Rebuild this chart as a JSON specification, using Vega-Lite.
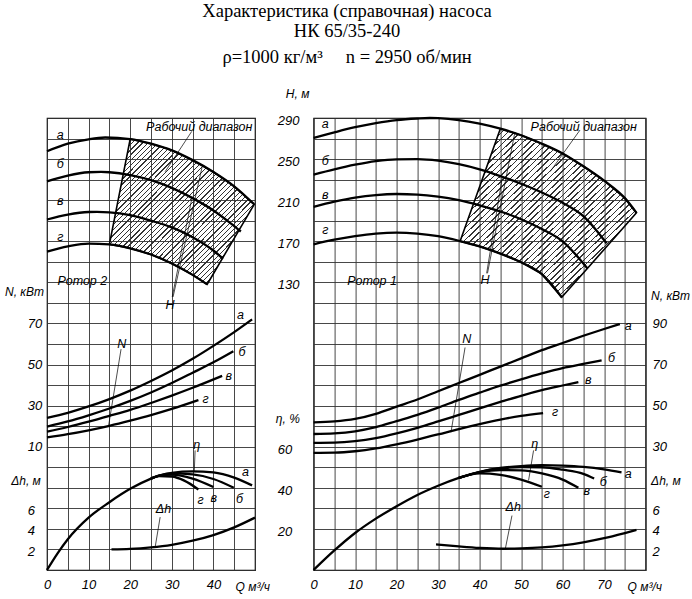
{
  "$schema": "https://vega.github.io/schema/vega-lite/v6.json",
  "description": "Характеристика насоса НК 65/35-240: H, N, η и Δh от подачи Q для роторов 2 и 1.",
  "background": "white",
  "padding": {"left": 3, "top": 2, "right": 2, "bottom": 2},
  "title": {
    "text": ["Характеристика (справочная) насоса", "НК 65/35-240"],
    "subtitle": "ρ=1000 кг/м³\u00a0\u00a0\u00a0\u00a0\u00a0n = 2950 об/мин",
    "font": "Liberation Serif",
    "fontSize": 18.5,
    "fontWeight": "normal",
    "color": "#000",
    "lineHeight": 20,
    "subtitleFont": "Liberation Serif",
    "subtitleFontSize": 18.5,
    "subtitleColor": "#000",
    "subtitlePadding": 7,
    "anchor": "middle",
    "offset": 21
  },
  "spacing": 58.6,
  "bounds": "flush",
  "config": {
    "view": {"stroke": "#000", "strokeWidth": 1.2},
    "axis": {
      "grid": false,
      "ticks": false,
      "tickSize": 0,
      "domain": false,
      "labelFont": "Liberation Sans",
      "labelFontStyle": "italic",
      "labelFontSize": 13,
      "labelColor": "#000",
      "labelOverlap": false,
      "labelFlush": false,
      "titleFont": "Liberation Sans",
      "titleFontStyle": "italic",
      "titleFontWeight": "normal",
      "titleFontSize": 12,
      "titleColor": "#000",
      "gridColor": "#333",
      "gridWidth": 0.9,
      "gridOpacity": 1
    },
    "axisX": {"labelBaseline": "top", "labelPadding": 8, "labelAlign": "center"},
    "axisY": {"labelBaseline": "middle", "titleAngle": 0, "titleBaseline": "middle"},
    "line": {"color": "#000", "strokeWidth": 2.3, "interpolate": "monotone"},
    "rule": {"color": "#000", "strokeWidth": 0.7},
    "text": {"font": "Liberation Sans", "fontStyle": "italic", "fontSize": 12.5, "color": "#000"},
    "area": {
      "fill": {
        "gradient": "linear",
        "x1": 0, "y1": 0, "x2": 0.9, "y2": 0.9,
        "stops": [
          {"offset": 0, "color": "#333"}, {"offset": 0.005, "color": "#333"}, {"offset": 0.005, "color": "rgba(0,0,0,0)"}, {"offset": 0.02, "color": "rgba(0,0,0,0)"},
          {"offset": 0.02, "color": "#333"}, {"offset": 0.025, "color": "#333"}, {"offset": 0.025, "color": "rgba(0,0,0,0)"}, {"offset": 0.04, "color": "rgba(0,0,0,0)"},
          {"offset": 0.04, "color": "#333"}, {"offset": 0.045, "color": "#333"}, {"offset": 0.045, "color": "rgba(0,0,0,0)"}, {"offset": 0.06, "color": "rgba(0,0,0,0)"},
          {"offset": 0.06, "color": "#333"}, {"offset": 0.065, "color": "#333"}, {"offset": 0.065, "color": "rgba(0,0,0,0)"}, {"offset": 0.08, "color": "rgba(0,0,0,0)"},
          {"offset": 0.08, "color": "#333"}, {"offset": 0.085, "color": "#333"}, {"offset": 0.085, "color": "rgba(0,0,0,0)"}, {"offset": 0.1, "color": "rgba(0,0,0,0)"},
          {"offset": 0.1, "color": "#333"}, {"offset": 0.105, "color": "#333"}, {"offset": 0.105, "color": "rgba(0,0,0,0)"}, {"offset": 0.12, "color": "rgba(0,0,0,0)"},
          {"offset": 0.12, "color": "#333"}, {"offset": 0.125, "color": "#333"}, {"offset": 0.125, "color": "rgba(0,0,0,0)"}, {"offset": 0.14, "color": "rgba(0,0,0,0)"},
          {"offset": 0.14, "color": "#333"}, {"offset": 0.145, "color": "#333"}, {"offset": 0.145, "color": "rgba(0,0,0,0)"}, {"offset": 0.16, "color": "rgba(0,0,0,0)"},
          {"offset": 0.16, "color": "#333"}, {"offset": 0.165, "color": "#333"}, {"offset": 0.165, "color": "rgba(0,0,0,0)"}, {"offset": 0.18, "color": "rgba(0,0,0,0)"},
          {"offset": 0.18, "color": "#333"}, {"offset": 0.185, "color": "#333"}, {"offset": 0.185, "color": "rgba(0,0,0,0)"}, {"offset": 0.2, "color": "rgba(0,0,0,0)"},
          {"offset": 0.2, "color": "#333"}, {"offset": 0.205, "color": "#333"}, {"offset": 0.205, "color": "rgba(0,0,0,0)"}, {"offset": 0.22, "color": "rgba(0,0,0,0)"},
          {"offset": 0.22, "color": "#333"}, {"offset": 0.225, "color": "#333"}, {"offset": 0.225, "color": "rgba(0,0,0,0)"}, {"offset": 0.24, "color": "rgba(0,0,0,0)"},
          {"offset": 0.24, "color": "#333"}, {"offset": 0.245, "color": "#333"}, {"offset": 0.245, "color": "rgba(0,0,0,0)"}, {"offset": 0.26, "color": "rgba(0,0,0,0)"},
          {"offset": 0.26, "color": "#333"}, {"offset": 0.265, "color": "#333"}, {"offset": 0.265, "color": "rgba(0,0,0,0)"}, {"offset": 0.28, "color": "rgba(0,0,0,0)"},
          {"offset": 0.28, "color": "#333"}, {"offset": 0.285, "color": "#333"}, {"offset": 0.285, "color": "rgba(0,0,0,0)"}, {"offset": 0.3, "color": "rgba(0,0,0,0)"},
          {"offset": 0.3, "color": "#333"}, {"offset": 0.305, "color": "#333"}, {"offset": 0.305, "color": "rgba(0,0,0,0)"}, {"offset": 0.32, "color": "rgba(0,0,0,0)"},
          {"offset": 0.32, "color": "#333"}, {"offset": 0.325, "color": "#333"}, {"offset": 0.325, "color": "rgba(0,0,0,0)"}, {"offset": 0.34, "color": "rgba(0,0,0,0)"},
          {"offset": 0.34, "color": "#333"}, {"offset": 0.345, "color": "#333"}, {"offset": 0.345, "color": "rgba(0,0,0,0)"}, {"offset": 0.36, "color": "rgba(0,0,0,0)"},
          {"offset": 0.36, "color": "#333"}, {"offset": 0.365, "color": "#333"}, {"offset": 0.365, "color": "rgba(0,0,0,0)"}, {"offset": 0.38, "color": "rgba(0,0,0,0)"},
          {"offset": 0.38, "color": "#333"}, {"offset": 0.385, "color": "#333"}, {"offset": 0.385, "color": "rgba(0,0,0,0)"}, {"offset": 0.4, "color": "rgba(0,0,0,0)"},
          {"offset": 0.4, "color": "#333"}, {"offset": 0.405, "color": "#333"}, {"offset": 0.405, "color": "rgba(0,0,0,0)"}, {"offset": 0.42, "color": "rgba(0,0,0,0)"},
          {"offset": 0.42, "color": "#333"}, {"offset": 0.425, "color": "#333"}, {"offset": 0.425, "color": "rgba(0,0,0,0)"}, {"offset": 0.44, "color": "rgba(0,0,0,0)"},
          {"offset": 0.44, "color": "#333"}, {"offset": 0.445, "color": "#333"}, {"offset": 0.445, "color": "rgba(0,0,0,0)"}, {"offset": 0.46, "color": "rgba(0,0,0,0)"},
          {"offset": 0.46, "color": "#333"}, {"offset": 0.465, "color": "#333"}, {"offset": 0.465, "color": "rgba(0,0,0,0)"}, {"offset": 0.48, "color": "rgba(0,0,0,0)"},
          {"offset": 0.48, "color": "#333"}, {"offset": 0.485, "color": "#333"}, {"offset": 0.485, "color": "rgba(0,0,0,0)"}, {"offset": 0.5, "color": "rgba(0,0,0,0)"},
          {"offset": 0.5, "color": "#333"}, {"offset": 0.505, "color": "#333"}, {"offset": 0.505, "color": "rgba(0,0,0,0)"}, {"offset": 0.52, "color": "rgba(0,0,0,0)"},
          {"offset": 0.52, "color": "#333"}, {"offset": 0.525, "color": "#333"}, {"offset": 0.525, "color": "rgba(0,0,0,0)"}, {"offset": 0.54, "color": "rgba(0,0,0,0)"},
          {"offset": 0.54, "color": "#333"}, {"offset": 0.545, "color": "#333"}, {"offset": 0.545, "color": "rgba(0,0,0,0)"}, {"offset": 0.56, "color": "rgba(0,0,0,0)"},
          {"offset": 0.56, "color": "#333"}, {"offset": 0.565, "color": "#333"}, {"offset": 0.565, "color": "rgba(0,0,0,0)"}, {"offset": 0.58, "color": "rgba(0,0,0,0)"},
          {"offset": 0.58, "color": "#333"}, {"offset": 0.585, "color": "#333"}, {"offset": 0.585, "color": "rgba(0,0,0,0)"}, {"offset": 0.6, "color": "rgba(0,0,0,0)"},
          {"offset": 0.6, "color": "#333"}, {"offset": 0.605, "color": "#333"}, {"offset": 0.605, "color": "rgba(0,0,0,0)"}, {"offset": 0.62, "color": "rgba(0,0,0,0)"},
          {"offset": 0.62, "color": "#333"}, {"offset": 0.625, "color": "#333"}, {"offset": 0.625, "color": "rgba(0,0,0,0)"}, {"offset": 0.64, "color": "rgba(0,0,0,0)"},
          {"offset": 0.64, "color": "#333"}, {"offset": 0.645, "color": "#333"}, {"offset": 0.645, "color": "rgba(0,0,0,0)"}, {"offset": 0.66, "color": "rgba(0,0,0,0)"},
          {"offset": 0.66, "color": "#333"}, {"offset": 0.665, "color": "#333"}, {"offset": 0.665, "color": "rgba(0,0,0,0)"}, {"offset": 0.68, "color": "rgba(0,0,0,0)"},
          {"offset": 0.68, "color": "#333"}, {"offset": 0.685, "color": "#333"}, {"offset": 0.685, "color": "rgba(0,0,0,0)"}, {"offset": 0.7, "color": "rgba(0,0,0,0)"},
          {"offset": 0.7, "color": "#333"}, {"offset": 0.705, "color": "#333"}, {"offset": 0.705, "color": "rgba(0,0,0,0)"}, {"offset": 0.72, "color": "rgba(0,0,0,0)"},
          {"offset": 0.72, "color": "#333"}, {"offset": 0.725, "color": "#333"}, {"offset": 0.725, "color": "rgba(0,0,0,0)"}, {"offset": 0.74, "color": "rgba(0,0,0,0)"},
          {"offset": 0.74, "color": "#333"}, {"offset": 0.745, "color": "#333"}, {"offset": 0.745, "color": "rgba(0,0,0,0)"}, {"offset": 0.76, "color": "rgba(0,0,0,0)"},
          {"offset": 0.76, "color": "#333"}, {"offset": 0.765, "color": "#333"}, {"offset": 0.765, "color": "rgba(0,0,0,0)"}, {"offset": 0.78, "color": "rgba(0,0,0,0)"},
          {"offset": 0.78, "color": "#333"}, {"offset": 0.785, "color": "#333"}, {"offset": 0.785, "color": "rgba(0,0,0,0)"}, {"offset": 0.8, "color": "rgba(0,0,0,0)"},
          {"offset": 0.8, "color": "#333"}, {"offset": 0.805, "color": "#333"}, {"offset": 0.805, "color": "rgba(0,0,0,0)"}, {"offset": 0.82, "color": "rgba(0,0,0,0)"},
          {"offset": 0.82, "color": "#333"}, {"offset": 0.825, "color": "#333"}, {"offset": 0.825, "color": "rgba(0,0,0,0)"}, {"offset": 0.84, "color": "rgba(0,0,0,0)"},
          {"offset": 0.84, "color": "#333"}, {"offset": 0.845, "color": "#333"}, {"offset": 0.845, "color": "rgba(0,0,0,0)"}, {"offset": 0.86, "color": "rgba(0,0,0,0)"},
          {"offset": 0.86, "color": "#333"}, {"offset": 0.865, "color": "#333"}, {"offset": 0.865, "color": "rgba(0,0,0,0)"}, {"offset": 0.88, "color": "rgba(0,0,0,0)"},
          {"offset": 0.88, "color": "#333"}, {"offset": 0.885, "color": "#333"}, {"offset": 0.885, "color": "rgba(0,0,0,0)"}, {"offset": 0.9, "color": "rgba(0,0,0,0)"},
          {"offset": 0.9, "color": "#333"}, {"offset": 0.905, "color": "#333"}, {"offset": 0.905, "color": "rgba(0,0,0,0)"}, {"offset": 0.92, "color": "rgba(0,0,0,0)"},
          {"offset": 0.92, "color": "#333"}, {"offset": 0.925, "color": "#333"}, {"offset": 0.925, "color": "rgba(0,0,0,0)"}, {"offset": 0.94, "color": "rgba(0,0,0,0)"},
          {"offset": 0.94, "color": "#333"}, {"offset": 0.945, "color": "#333"}, {"offset": 0.945, "color": "rgba(0,0,0,0)"}, {"offset": 0.96, "color": "rgba(0,0,0,0)"},
          {"offset": 0.96, "color": "#333"}, {"offset": 0.965, "color": "#333"}, {"offset": 0.965, "color": "rgba(0,0,0,0)"}, {"offset": 0.98, "color": "rgba(0,0,0,0)"},
          {"offset": 0.98, "color": "#333"}, {"offset": 0.985, "color": "#333"}, {"offset": 0.985, "color": "rgba(0,0,0,0)"}, {"offset": 1, "color": "rgba(0,0,0,0)"}
        ]
      }
    }
  },
  "datasets": {
    "hL": [
      {"c": "а", "q": 0, "v": 257.6}, {"c": "а", "q": 5, "v": 265}, {"c": "а", "q": 10, "v": 269.3}, {"c": "а", "q": 14, "v": 271}, {"c": "а", "q": 20, "v": 269.5}, {"c": "а", "q": 25, "v": 265}, {"c": "а", "q": 30, "v": 258.5}, {"c": "а", "q": 35, "v": 249}, {"c": "а", "q": 40, "v": 237.5}, {"c": "а", "q": 45, "v": 223.5}, {"c": "а", "q": 49.8, "v": 206},
      {"c": "б", "q": 0, "v": 228.4}, {"c": "б", "q": 5, "v": 234}, {"c": "б", "q": 10, "v": 237.2}, {"c": "б", "q": 13, "v": 237.5}, {"c": "б", "q": 15, "v": 237.2}, {"c": "б", "q": 20, "v": 234.5}, {"c": "б", "q": 25, "v": 229.5}, {"c": "б", "q": 30, "v": 222}, {"c": "б", "q": 35, "v": 212}, {"c": "б", "q": 40, "v": 200}, {"c": "б", "q": 44, "v": 188}, {"c": "б", "q": 46.6, "v": 179.5},
      {"c": "в", "q": 0, "v": 191.2}, {"c": "в", "q": 5, "v": 196}, {"c": "в", "q": 10, "v": 198.5}, {"c": "в", "q": 12, "v": 198.6}, {"c": "в", "q": 15, "v": 198.2}, {"c": "в", "q": 20, "v": 195.5}, {"c": "в", "q": 25, "v": 190}, {"c": "в", "q": 30, "v": 183.5}, {"c": "в", "q": 35, "v": 174}, {"c": "в", "q": 40, "v": 161}, {"c": "в", "q": 42.3, "v": 153},
      {"c": "г", "q": 0, "v": 160}, {"c": "г", "q": 5, "v": 165}, {"c": "г", "q": 10, "v": 167.8}, {"c": "г", "q": 15, "v": 166.9}, {"c": "г", "q": 20, "v": 163.2}, {"c": "г", "q": 25, "v": 157.1}, {"c": "г", "q": 30, "v": 148.4}, {"c": "г", "q": 35, "v": 137.3}, {"c": "г", "q": 38.5, "v": 128}
    ],
    "zoneL": [
      {"q": 15, "v": 166.9, "v2": 166.9}, {"q": 20, "v": 269.5, "v2": 163.2}, {"q": 25, "v": 265, "v2": 157.1}, {"q": 30, "v": 258.5, "v2": 148.4}, {"q": 35, "v": 249, "v2": 137.3}, {"q": 38.5, "v": 241, "v2": 128}, {"q": 40, "v": 237.5, "v2": 138.4}, {"q": 45, "v": 223.5, "v2": 172.9}, {"q": 49.8, "v": 206, "v2": 206}
    ],
    "nL": [
      {"c": "а", "q": 0, "v": 24}, {"c": "а", "q": 5, "v": 26.5}, {"c": "а", "q": 10, "v": 29.6}, {"c": "а", "q": 15, "v": 33.2}, {"c": "а", "q": 20, "v": 37.3}, {"c": "а", "q": 25, "v": 42}, {"c": "а", "q": 30, "v": 47.1}, {"c": "а", "q": 35, "v": 52.8}, {"c": "а", "q": 40, "v": 59.1}, {"c": "а", "q": 45, "v": 65.8}, {"c": "а", "q": 49.3, "v": 72},
      {"c": "б", "q": 0, "v": 19.8}, {"c": "б", "q": 5, "v": 22.3}, {"c": "б", "q": 10, "v": 25.3}, {"c": "б", "q": 15, "v": 28.6}, {"c": "б", "q": 20, "v": 32.3}, {"c": "б", "q": 25, "v": 36.4}, {"c": "б", "q": 30, "v": 41}, {"c": "б", "q": 35, "v": 46}, {"c": "б", "q": 40, "v": 51.1}, {"c": "б", "q": 44.8, "v": 56.5},
      {"c": "в", "q": 0, "v": 17.3}, {"c": "в", "q": 5, "v": 19.6}, {"c": "в", "q": 10, "v": 22.2}, {"c": "в", "q": 15, "v": 25}, {"c": "в", "q": 20, "v": 27.9}, {"c": "в", "q": 25, "v": 31.3}, {"c": "в", "q": 30, "v": 34.9}, {"c": "в", "q": 35, "v": 38.7}, {"c": "в", "q": 42.1, "v": 44.5},
      {"c": "г", "q": 0, "v": 14.5}, {"c": "г", "q": 5, "v": 16.1}, {"c": "г", "q": 10, "v": 18}, {"c": "г", "q": 15, "v": 20.2}, {"c": "г", "q": 20, "v": 22.7}, {"c": "г", "q": 25, "v": 25.4}, {"c": "г", "q": 30, "v": 28.4}, {"c": "г", "q": 36.4, "v": 32.7}
    ],
    "eL": [
      {"c": "а", "q": 0, "v": 0}, {"c": "а", "q": 2.5, "v": 8}, {"c": "а", "q": 5, "v": 15}, {"c": "а", "q": 10, "v": 25.5}, {"c": "а", "q": 15, "v": 33}, {"c": "а", "q": 20, "v": 39.5}, {"c": "а", "q": 25, "v": 44.5}, {"c": "а", "q": 27, "v": 46}, {"c": "а", "q": 30, "v": 47.3}, {"c": "а", "q": 35, "v": 48}, {"c": "а", "q": 40, "v": 47.5}, {"c": "а", "q": 45, "v": 45}, {"c": "а", "q": 49.3, "v": 41.2},
      {"c": "б", "q": 25, "v": 44.5}, {"c": "б", "q": 27, "v": 46}, {"c": "б", "q": 30, "v": 47}, {"c": "б", "q": 35, "v": 46.5}, {"c": "б", "q": 40, "v": 44.3}, {"c": "б", "q": 44.9, "v": 40},
      {"c": "в", "q": 25, "v": 44.5}, {"c": "в", "q": 27, "v": 45.9}, {"c": "в", "q": 30, "v": 46.4}, {"c": "в", "q": 35, "v": 44.5}, {"c": "в", "q": 40, "v": 40.4},
      {"c": "г", "q": 25, "v": 44.5}, {"c": "г", "q": 27, "v": 45.7}, {"c": "г", "q": 30, "v": 45.5}, {"c": "г", "q": 33, "v": 43.5}, {"c": "г", "q": 36.4, "v": 39.2}
    ],
    "dL": [
      {"q": 15.5, "v": 2}, {"q": 20, "v": 2.05}, {"q": 25, "v": 2.2}, {"q": 30, "v": 2.45}, {"q": 35, "v": 2.85}, {"q": 40, "v": 3.4}, {"q": 45, "v": 4.15}, {"q": 50, "v": 5.1}
    ],
    "txtL": [
      {"s": "H", "q": 3.2, "v": 273, "t": "а"}, {"s": "H", "q": 3.2, "v": 245, "t": "б"}, {"s": "H", "q": 3.2, "v": 209, "t": "в"}, {"s": "H", "q": 3.2, "v": 174, "t": "г"},
      {"s": "H", "q": 36.6, "v": 281, "t": "Рабочий диапазон"}, {"s": "H", "q": 8.5, "v": 131, "t": "Ротор 2"}, {"s": "H", "q": 29.6, "v": 108, "t": "H"},
      {"s": "N", "q": 46.5, "v": 74, "t": "а"}, {"s": "N", "q": 46.9, "v": 56, "t": "б"}, {"s": "N", "q": 43.7, "v": 44.5, "t": "в"}, {"s": "N", "q": 38.1, "v": 33.2, "t": "г"}, {"s": "N", "q": 18, "v": 60, "t": "N"},
      {"s": "E", "q": 47.7, "v": 47.7, "t": "а"}, {"s": "E", "q": 46.3, "v": 34.7, "t": "б"}, {"s": "E", "q": 40.1, "v": 35, "t": "в"}, {"s": "E", "q": 36.9, "v": 33.9, "t": "г"}, {"s": "E", "q": 36, "v": 60.6, "t": "η"},
      {"s": "D", "q": 28, "v": 5.95, "t": "Δh"}
    ],
    "ldrL": [
      {"s": "H", "q": 30.1, "v": 115.8, "q2": 34.9, "v2": 213.4}, {"s": "H", "q": 30.3, "v": 115.8, "q2": 37.3, "v2": 242.6}, {"s": "H", "q": 34.8, "v": 277, "q2": 28.4, "v2": 237.7},
      {"s": "N", "q": 17.8, "v": 57.5, "q2": 14.8, "v2": 20.2},
      {"s": "E", "q": 35.6, "v": 58.2, "q2": 35.4, "v2": 47.7},
      {"s": "D", "q": 27.2, "v": 5.15, "q2": 26, "v2": 2.23}
    ],
    "hR": [
      {"c": "а", "q": 0, "v": 270.6}, {"c": "а", "q": 5, "v": 276}, {"c": "а", "q": 10, "v": 281}, {"c": "а", "q": 15, "v": 285}, {"c": "а", "q": 20, "v": 288}, {"c": "а", "q": 25, "v": 289.5}, {"c": "а", "q": 28, "v": 290}, {"c": "а", "q": 30, "v": 289.8}, {"c": "а", "q": 35, "v": 288}, {"c": "а", "q": 40, "v": 284.5}, {"c": "а", "q": 45, "v": 279.6}, {"c": "а", "q": 50, "v": 273.2}, {"c": "а", "q": 55, "v": 265}, {"c": "а", "q": 60, "v": 255.5}, {"c": "а", "q": 65, "v": 243}, {"c": "а", "q": 70, "v": 229}, {"c": "а", "q": 75, "v": 212}, {"c": "а", "q": 77.8, "v": 197.7},
      {"c": "б", "q": 0, "v": 234.9}, {"c": "б", "q": 5, "v": 240}, {"c": "б", "q": 10, "v": 244.5}, {"c": "б", "q": 15, "v": 248}, {"c": "б", "q": 20, "v": 249.8}, {"c": "б", "q": 25, "v": 250}, {"c": "б", "q": 30, "v": 248.5}, {"c": "б", "q": 35, "v": 245}, {"c": "б", "q": 40, "v": 240}, {"c": "б", "q": 45, "v": 233.5}, {"c": "б", "q": 50, "v": 226}, {"c": "б", "q": 55, "v": 217.5}, {"c": "б", "q": 60, "v": 207.5}, {"c": "б", "q": 65, "v": 194.5}, {"c": "б", "q": 70.6, "v": 168},
      {"c": "в", "q": 0, "v": 203.5}, {"c": "в", "q": 5, "v": 208.5}, {"c": "в", "q": 10, "v": 212.5}, {"c": "в", "q": 15, "v": 215}, {"c": "в", "q": 20, "v": 216}, {"c": "в", "q": 25, "v": 215.5}, {"c": "в", "q": 30, "v": 213.5}, {"c": "в", "q": 35, "v": 210}, {"c": "в", "q": 40, "v": 205}, {"c": "в", "q": 45, "v": 199}, {"c": "в", "q": 50, "v": 191.5}, {"c": "в", "q": 55, "v": 182}, {"c": "в", "q": 60, "v": 170}, {"c": "в", "q": 66, "v": 143.5},
      {"c": "г", "q": 0, "v": 167}, {"c": "г", "q": 5, "v": 171.5}, {"c": "г", "q": 10, "v": 175}, {"c": "г", "q": 15, "v": 177.5}, {"c": "г", "q": 20, "v": 178.5}, {"c": "г", "q": 25, "v": 177.5}, {"c": "г", "q": 30, "v": 175}, {"c": "г", "q": 35, "v": 170.5}, {"c": "г", "q": 40, "v": 165}, {"c": "г", "q": 45, "v": 158}, {"c": "г", "q": 50, "v": 149.5}, {"c": "г", "q": 55, "v": 138}, {"c": "г", "q": 59.8, "v": 115.5}
    ],
    "zoneR": [
      {"q": 35.3, "v": 170, "v2": 170}, {"q": 40, "v": 223.1, "v2": 165}, {"q": 45, "v": 279.6, "v2": 158}, {"q": 50, "v": 273.2, "v2": 149.5}, {"q": 55, "v": 265, "v2": 138}, {"q": 59.8, "v": 256, "v2": 115.5}, {"q": 60, "v": 255.5, "v2": 116.4}, {"q": 65, "v": 243, "v2": 139.2}, {"q": 70, "v": 229, "v2": 162}, {"q": 75, "v": 212, "v2": 184.9}, {"q": 77.8, "v": 197.7, "v2": 197.7}
    ],
    "nR": [
      {"c": "а", "q": 0, "v": 41.9}, {"c": "а", "q": 5, "v": 42.3}, {"c": "а", "q": 10, "v": 43.5}, {"c": "а", "q": 15, "v": 46}, {"c": "а", "q": 20, "v": 49.5}, {"c": "а", "q": 25, "v": 53}, {"c": "а", "q": 30, "v": 57}, {"c": "а", "q": 35, "v": 61}, {"c": "а", "q": 40, "v": 65}, {"c": "а", "q": 45, "v": 69}, {"c": "а", "q": 50, "v": 73}, {"c": "а", "q": 55, "v": 77}, {"c": "а", "q": 60, "v": 80.5}, {"c": "а", "q": 65, "v": 84}, {"c": "а", "q": 70, "v": 87.3}, {"c": "а", "q": 73.8, "v": 89.7},
      {"c": "б", "q": 0, "v": 36.2}, {"c": "б", "q": 5, "v": 36.5}, {"c": "б", "q": 10, "v": 37.5}, {"c": "б", "q": 15, "v": 39.5}, {"c": "б", "q": 20, "v": 42.5}, {"c": "б", "q": 25, "v": 45.5}, {"c": "б", "q": 30, "v": 49}, {"c": "б", "q": 35, "v": 52.8}, {"c": "б", "q": 40, "v": 56.3}, {"c": "б", "q": 45, "v": 59.7}, {"c": "б", "q": 50, "v": 62.8}, {"c": "б", "q": 55, "v": 65.7}, {"c": "б", "q": 60, "v": 68.3}, {"c": "б", "q": 65, "v": 70.3}, {"c": "б", "q": 69.4, "v": 72},
      {"c": "в", "q": 0, "v": 31.9}, {"c": "в", "q": 5, "v": 32}, {"c": "в", "q": 10, "v": 32.7}, {"c": "в", "q": 15, "v": 34.2}, {"c": "в", "q": 20, "v": 36.5}, {"c": "в", "q": 25, "v": 39.2}, {"c": "в", "q": 30, "v": 42.3}, {"c": "в", "q": 35, "v": 45.5}, {"c": "в", "q": 40, "v": 48.7}, {"c": "в", "q": 45, "v": 51.8}, {"c": "в", "q": 50, "v": 54.8}, {"c": "в", "q": 55, "v": 57.5}, {"c": "в", "q": 60, "v": 59.8}, {"c": "в", "q": 63.8, "v": 61.5},
      {"c": "г", "q": 0, "v": 27}, {"c": "г", "q": 5, "v": 27.1}, {"c": "г", "q": 10, "v": 27.8}, {"c": "г", "q": 15, "v": 29.2}, {"c": "г", "q": 20, "v": 31.2}, {"c": "г", "q": 25, "v": 33.5}, {"c": "г", "q": 30, "v": 36}, {"c": "г", "q": 35, "v": 38.6}, {"c": "г", "q": 40, "v": 41}, {"c": "г", "q": 45, "v": 43.2}, {"c": "г", "q": 50, "v": 45}, {"c": "г", "q": 55.3, "v": 46.4}
    ],
    "eR": [
      {"c": "а", "q": 0, "v": 0}, {"c": "а", "q": 5, "v": 9.5}, {"c": "а", "q": 10, "v": 18}, {"c": "а", "q": 15, "v": 25}, {"c": "а", "q": 20, "v": 31}, {"c": "а", "q": 25, "v": 36.5}, {"c": "а", "q": 30, "v": 41}, {"c": "а", "q": 35, "v": 44.8}, {"c": "а", "q": 40, "v": 47.8}, {"c": "а", "q": 45, "v": 49.7}, {"c": "а", "q": 50, "v": 50.6}, {"c": "а", "q": 55, "v": 51}, {"c": "а", "q": 60, "v": 50.8}, {"c": "а", "q": 65, "v": 50.2}, {"c": "а", "q": 70, "v": 49}, {"c": "а", "q": 74.2, "v": 47.5},
      {"c": "б", "q": 35, "v": 44.8}, {"c": "б", "q": 40, "v": 47.7}, {"c": "б", "q": 45, "v": 49.4}, {"c": "б", "q": 50, "v": 50.1}, {"c": "б", "q": 55, "v": 50}, {"c": "б", "q": 60, "v": 48.8}, {"c": "б", "q": 65, "v": 46.8}, {"c": "б", "q": 67.6, "v": 44.5},
      {"c": "в", "q": 35, "v": 44.8}, {"c": "в", "q": 40, "v": 47.5}, {"c": "в", "q": 45, "v": 48.6}, {"c": "в", "q": 50, "v": 48.5}, {"c": "в", "q": 55, "v": 47}, {"c": "в", "q": 60, "v": 44}, {"c": "в", "q": 63.8, "v": 40},
      {"c": "г", "q": 35, "v": 44.8}, {"c": "г", "q": 40, "v": 47}, {"c": "г", "q": 45, "v": 46.3}, {"c": "г", "q": 50, "v": 44}, {"c": "г", "q": 55, "v": 40.5}
    ],
    "dR": [
      {"q": 29.5, "v": 2.5}, {"q": 35, "v": 2.3}, {"q": 40, "v": 2.15}, {"q": 45.7, "v": 2.07}, {"q": 50, "v": 2.1}, {"q": 55, "v": 2.2}, {"q": 60, "v": 2.4}, {"q": 65, "v": 2.7}, {"q": 70, "v": 3.1}, {"q": 75, "v": 3.6}, {"q": 77.8, "v": 3.9}
    ],
    "txtR": [
      {"s": "H", "q": 2.8, "v": 284.5, "t": "а"}, {"s": "H", "q": 2.8, "v": 248.5, "t": "б"}, {"s": "H", "q": 2.8, "v": 214.7, "t": "в"}, {"s": "H", "q": 2.8, "v": 180.7, "t": "г"},
      {"s": "H", "q": 65.1, "v": 281, "t": "Рабочий диапазон"}, {"s": "H", "q": 14.1, "v": 131, "t": "Ротор 1"}, {"s": "H", "q": 41.3, "v": 132.4, "t": "H"},
      {"s": "N", "q": 75.8, "v": 88.8, "t": "а"}, {"s": "N", "q": 71.8, "v": 73, "t": "б"}, {"s": "N", "q": 66.2, "v": 62.6, "t": "в"}, {"s": "N", "q": 58.2, "v": 46.7, "t": "г"}, {"s": "N", "q": 36.9, "v": 82.4, "t": "N"},
      {"s": "E", "q": 75.8, "v": 46.9, "t": "а"}, {"s": "E", "q": 69.8, "v": 42.8, "t": "б"}, {"s": "E", "q": 65.8, "v": 38.3, "t": "в"}, {"s": "E", "q": 56.2, "v": 37.1, "t": "г"}, {"s": "E", "q": 53.3, "v": 61.5, "t": "η"},
      {"s": "D", "q": 48.1, "v": 6.1, "t": "Δh"}
    ],
    "ldrR": [
      {"s": "H", "q": 41.7, "v": 138.8, "q2": 45.5, "v2": 233}, {"s": "H", "q": 41.9, "v": 138.8, "q2": 48.5, "v2": 276}, {"s": "H", "q": 64.2, "v": 278.3, "q2": 57, "v2": 237.8},
      {"s": "N", "q": 36.5, "v": 78.3, "q2": 33.1, "v2": 37},
      {"s": "E", "q": 53, "v": 58.2, "q2": 51.8, "v2": 43.6},
      {"s": "D", "q": 47.8, "v": 5.3, "q2": 46.2, "v2": 2.07}
    ]
  },
  "hconcat": [
    {
      "width": 208,
      "height": 452,
      "encoding": {
        "x": {
          "field": "q",
          "type": "quantitative",
          "scale": {"domain": [0, 50], "nice": false, "zero": false},
          "axis": {
            "values": [0, 5, 10, 15, 20, 25, 30, 35, 40, 45, 50],
            "grid": true,
            "labelExpr": "datum.value % 10 == 0 && datum.value < 50 ? datum.label : ''",
            "title": "Q м³/ч",
            "titleX": 188,
            "titleY": 16,
            "titleAlign": "left",
            "titleBaseline": "middle"
          }
        }
      },
      "layer": [
        {
          "encoding": {
            "y": {"field": "v", "type": "quantitative", "scale": {"domain": [-150, 290], "nice": false, "zero": false}, "axis": null}
          },
          "layer": [
            {"data": {"name": "zoneL"}, "mark": {"type": "area", "stroke": "#000", "strokeWidth": 1.6}, "encoding": {"y2": {"field": "v2"}}},
            {"data": {"name": "hL"}, "mark": "line", "encoding": {"detail": {"field": "c", "type": "nominal"}}},
            {"data": {"name": "ldrL"}, "transform": [{"filter": "datum.s == 'H'"}], "mark": "rule", "encoding": {"x2": {"field": "q2"}, "y2": {"field": "v2"}}},
            {"data": {"name": "txtL"}, "transform": [{"filter": "datum.s == 'H'"}], "mark": "text", "encoding": {"text": {"field": "t"}}}
          ]
        },
        {
          "encoding": {
            "y": {
              "field": "v", "type": "quantitative",
              "scale": {"domain": [-50, 170], "nice": false, "zero": false},
              "axis": {"orient": "left", "values": [10, 30, 50, 70], "labelAlign": "left", "labelPadding": 19.7, "title": "N, кВт", "titleX": -3.5, "titleY": 173.7, "titleAlign": "right"}
            }
          },
          "layer": [
            {"data": {"name": "nL"}, "mark": "line", "encoding": {"detail": {"field": "c", "type": "nominal"}}},
            {"data": {"name": "ldrL"}, "transform": [{"filter": "datum.s == 'N'"}], "mark": "rule", "encoding": {"x2": {"field": "q2"}, "y2": {"field": "v2"}}},
            {"data": {"name": "txtL"}, "transform": [{"filter": "datum.s == 'N'"}], "mark": "text", "encoding": {"text": {"field": "t"}}}
          ]
        },
        {
          "encoding": {
            "y": {
              "field": "v", "type": "quantitative",
              "scale": {"domain": [0, 220], "nice": false, "zero": false},
              "axis": {"orient": "left", "values": [0, 10, 20, 30, 40, 50, 60, 70, 80, 90, 100, 110, 120, 130, 140, 150, 160, 170, 180, 190, 200, 210, 220], "grid": true, "labels": false, "title": null}
            }
          },
          "layer": [
            {"data": {"name": "eL"}, "mark": "line", "encoding": {"detail": {"field": "c", "type": "nominal"}}},
            {"data": {"name": "ldrL"}, "transform": [{"filter": "datum.s == 'E'"}], "mark": "rule", "encoding": {"x2": {"field": "q2"}, "y2": {"field": "v2"}}},
            {"data": {"name": "txtL"}, "transform": [{"filter": "datum.s == 'E'"}], "mark": "text", "encoding": {"text": {"field": "t"}}}
          ]
        },
        {
          "encoding": {
            "y": {
              "field": "v", "type": "quantitative",
              "scale": {"domain": [0, 44], "nice": false, "zero": false},
              "axis": {"orient": "left", "values": [2, 4, 6], "labelAlign": "left", "labelPadding": 19.7, "labelOffset": 2, "title": "Δh, м", "titleX": -6.7, "titleY": 362.4, "titleAlign": "right"}
            }
          },
          "layer": [
            {"data": {"name": "dL"}, "mark": "line"},
            {"data": {"name": "ldrL"}, "transform": [{"filter": "datum.s == 'D'"}], "mark": "rule", "encoding": {"x2": {"field": "q2"}, "y2": {"field": "v2"}}},
            {"data": {"name": "txtL"}, "transform": [{"filter": "datum.s == 'D'"}], "mark": "text", "encoding": {"text": {"field": "t"}}}
          ]
        }
      ],
      "resolve": {"scale": {"y": "independent"}, "axis": {"y": "independent"}}
    },
    {
      "width": 332,
      "height": 452,
      "encoding": {
        "x": {
          "field": "q",
          "type": "quantitative",
          "scale": {"domain": [0, 80], "nice": false, "zero": false},
          "axis": {
            "values": [0, 5, 10, 15, 20, 25, 30, 35, 40, 45, 50, 55, 60, 65, 70, 75, 80],
            "grid": true,
            "labelExpr": "datum.value % 10 == 0 && datum.value < 80 ? datum.label : ''",
            "title": "Q м³/ч",
            "titleX": 313.4,
            "titleY": 16,
            "titleAlign": "left",
            "titleBaseline": "middle"
          }
        }
      },
      "layer": [
        {
          "encoding": {
            "y": {
              "field": "v", "type": "quantitative",
              "scale": {"domain": [-150, 290], "nice": false, "zero": false},
              "axis": {"orient": "left", "values": [130, 170, 210, 250, 290], "labelAlign": "left", "labelPadding": 36.3, "labelOffset": 2, "title": "H, м", "titleX": -28.3, "titleY": -24.3, "titleAlign": "left"}
            }
          },
          "layer": [
            {"data": {"name": "zoneR"}, "mark": {"type": "area", "stroke": "#000", "strokeWidth": 1.6}, "encoding": {"y2": {"field": "v2"}}},
            {"data": {"name": "hR"}, "mark": "line", "encoding": {"detail": {"field": "c", "type": "nominal"}}},
            {"data": {"name": "ldrR"}, "transform": [{"filter": "datum.s == 'H'"}], "mark": "rule", "encoding": {"x2": {"field": "q2"}, "y2": {"field": "v2"}}},
            {"data": {"name": "txtR"}, "transform": [{"filter": "datum.s == 'H'"}], "mark": "text", "encoding": {"text": {"field": "t"}}}
          ]
        },
        {
          "encoding": {
            "y": {
              "field": "v", "type": "quantitative",
              "scale": {"domain": [-30, 190], "nice": false, "zero": false},
              "axis": {"orient": "right", "values": [30, 50, 70, 90], "labelPadding": 6.5, "title": "N, кВт", "titleX": 5, "titleY": 177.4, "titleAlign": "left"}
            }
          },
          "layer": [
            {"data": {"name": "nR"}, "mark": "line", "encoding": {"detail": {"field": "c", "type": "nominal"}}},
            {"data": {"name": "ldrR"}, "transform": [{"filter": "datum.s == 'N'"}], "mark": "rule", "encoding": {"x2": {"field": "q2"}, "y2": {"field": "v2"}}},
            {"data": {"name": "txtR"}, "transform": [{"filter": "datum.s == 'N'"}], "mark": "text", "encoding": {"text": {"field": "t"}}}
          ]
        },
        {
          "encoding": {
            "y": {
              "field": "v", "type": "quantitative",
              "scale": {"domain": [0, 220], "nice": false, "zero": false},
              "axis": {
                "orient": "left",
                "values": [0, 10, 20, 30, 40, 50, 60, 70, 80, 90, 100, 110, 120, 130, 140, 150, 160, 170, 180, 190, 200, 210, 220],
                "grid": true,
                "labelExpr": "datum.value == 20 || datum.value == 40 || datum.value == 60 ? datum.label : ''",
                "labelAlign": "left",
                "labelPadding": 36.3,
                "labelOffset": 3,
                "title": "η, %",
                "titleX": -38.3,
                "titleY": 300.7,
                "titleAlign": "left"
              }
            }
          },
          "layer": [
            {"data": {"name": "eR"}, "mark": "line", "encoding": {"detail": {"field": "c", "type": "nominal"}}},
            {"data": {"name": "ldrR"}, "transform": [{"filter": "datum.s == 'E'"}], "mark": "rule", "encoding": {"x2": {"field": "q2"}, "y2": {"field": "v2"}}},
            {"data": {"name": "txtR"}, "transform": [{"filter": "datum.s == 'E'"}], "mark": "text", "encoding": {"text": {"field": "t"}}}
          ]
        },
        {
          "encoding": {
            "y": {
              "field": "v", "type": "quantitative",
              "scale": {"domain": [0, 44], "nice": false, "zero": false},
              "axis": {"orient": "right", "values": [2, 4, 6], "labelPadding": 6.5, "labelOffset": 2, "title": "Δh, м", "titleX": 5, "titleY": 362.4, "titleAlign": "left"}
            }
          },
          "layer": [
            {"data": {"name": "dR"}, "mark": "line"},
            {"data": {"name": "ldrR"}, "transform": [{"filter": "datum.s == 'D'"}], "mark": "rule", "encoding": {"x2": {"field": "q2"}, "y2": {"field": "v2"}}},
            {"data": {"name": "txtR"}, "transform": [{"filter": "datum.s == 'D'"}], "mark": "text", "encoding": {"text": {"field": "t"}}}
          ]
        }
      ],
      "resolve": {"scale": {"y": "independent"}, "axis": {"y": "independent"}}
    }
  ]
}
